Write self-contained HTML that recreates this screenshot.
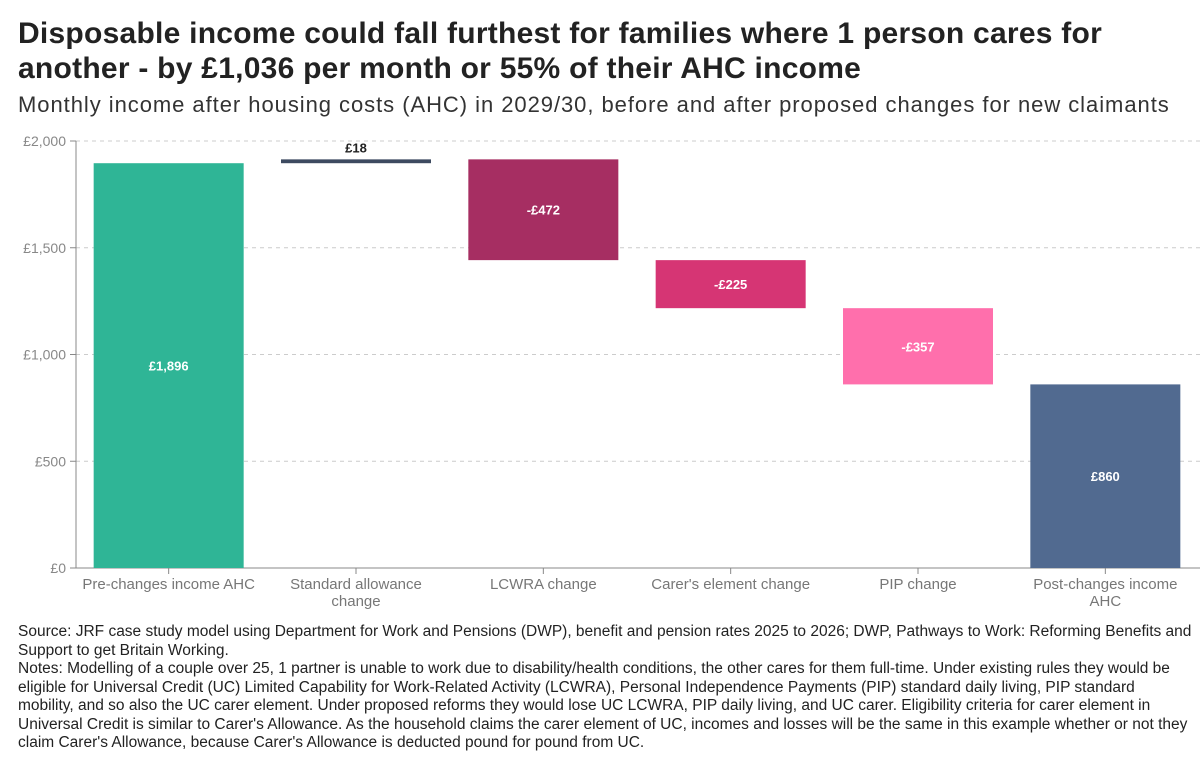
<!DOCTYPE html>
<html><head><meta charset="utf-8"><style>
body{margin:0;width:1200px;height:763px;background:#fff;font-family:"Liberation Sans",sans-serif;overflow:hidden;position:relative}
#title{position:absolute;left:18px;top:16px;font-size:30px;font-weight:bold;line-height:35px;color:#222;letter-spacing:0.25px;white-space:nowrap}
#sub{position:absolute;left:18px;top:92px;font-size:22px;letter-spacing:0.95px;color:#333;white-space:nowrap}
#notes{position:absolute;left:18px;top:623px;font-size:15.5px;line-height:18.5px;color:#222;white-space:nowrap}
svg{position:absolute;left:0;top:0}
</style></head><body>
<div id="title">Disposable income could fall furthest for families where 1 person cares for<br>another - by £1,036 per month or 55% of their AHC income</div>
<div id="sub">Monthly income after housing costs (AHC) in 2029/30, before and after proposed changes for new claimants</div>
<svg id="chart" width="1200" height="620"></svg>
<div id="notes">Source: JRF case study model using Department for Work and Pensions (DWP), benefit and pension rates 2025 to 2026; DWP, Pathways to Work: Reforming Benefits and<br>Support to get Britain Working.<br>Notes: Modelling of a couple over 25, 1 partner is unable to work due to disability/health conditions, the other cares for them full-time. Under existing rules they would be<br>eligible for Universal Credit (UC) Limited Capability for Work-Related Activity (LCWRA), Personal Independence Payments (PIP) standard daily living, PIP standard<br>mobility, and so also the UC carer element. Under proposed reforms they would lose UC LCWRA, PIP daily living, and UC carer. Eligibility criteria for carer element in<br>Universal Credit is similar to Carer's Allowance. As the household claims the carer element of UC, incomes and losses will be the same in this example whether or not they<br>claim Carer's Allowance, because Carer's Allowance is deducted pound for pound from UC.</div>
<script>
const categories=["Pre-changes income AHC","Standard allowance|change","LCWRA change","Carer's element change","PIP change","Post-changes income|AHC"];
const changes=[1896,18,-472,-225,-357,860];
const isTotal=[true,false,false,false,false,true];
const valueLabels=["£1,896","£18","-£472","-£225","-£357","£860"];
const yTicks=[0,500,1000,1500,2000];
const yTickLabels=["£0","£500","£1,000","£1,500","£2,000"];
const colors=["#2fb596","#3d4a60","#a62e62","#d63574","#ff6fac","#516a90"];
const svg=document.getElementById('chart');const NS="http://www.w3.org/2000/svg";
const x0=76,x1=1200,y0=568,yTop=141;
const y=v=>y0-(v/2000)*(y0-yTop);
const band=(x1-x0)/categories.length;
const cx=i=>x0+band*(i+0.5)-1;
const bw=150;
function el(t,a){const e=document.createElementNS(NS,t);for(const k in a)e.setAttribute(k,a[k]);svg.appendChild(e);return e;}
yTicks.forEach((t,i)=>{
 const g=el('line',{x1:x0,x2:x1,y1:y(t),y2:y(t),stroke:'#ccc','stroke-dasharray':'4,4'});
 
 
 el('line',{x1:x0-6,x2:x0,y1:y(t),y2:y(t),stroke:'#888'});
 const l=el('text',{x:x0-10,y:y(t)+5,'text-anchor':'end','font-size':14,fill:'#888'});l.textContent=yTickLabels[i];
 
 
});
el('line',{x1:x0,x2:x0,y1:yTop,y2:y0,stroke:'#888'});
el('line',{x1:x0,x2:x1,y1:y0,y2:y0,stroke:'#888'});
let run=0;
categories.forEach((c,i)=>{
 let a,b;
 if(isTotal[i]){a=0;b=changes[i];run=changes[i];}else{a=run;b=run+changes[i];run=b;}
 const top=y(Math.max(a,b)),bot=y(Math.min(a,b));
 const r=el('rect',{x:cx(i)-bw/2,y:top,width:bw,height:Math.max(bot-top,1),fill:colors[i]});
 
 
 const small=(bot-top)<20;
 const t=el('text',{x:cx(i),y:small?top-7:(top+bot)/2+5,'text-anchor':'middle','font-size':13,'font-weight':'bold',fill:small?'#222':'#fff'});
 t.textContent=valueLabels[i];
 
 
 el('line',{x1:cx(i),x2:cx(i),y1:y0,y2:y0+6,stroke:'#888'});
 c.split('|').forEach((ln,j)=>{
  const xl=el('text',{x:cx(i),y:y0+21+j*17,'text-anchor':'middle','font-size':15,fill:'#777'});xl.textContent=ln;
  
  
 });
});
</script>
</body></html>
